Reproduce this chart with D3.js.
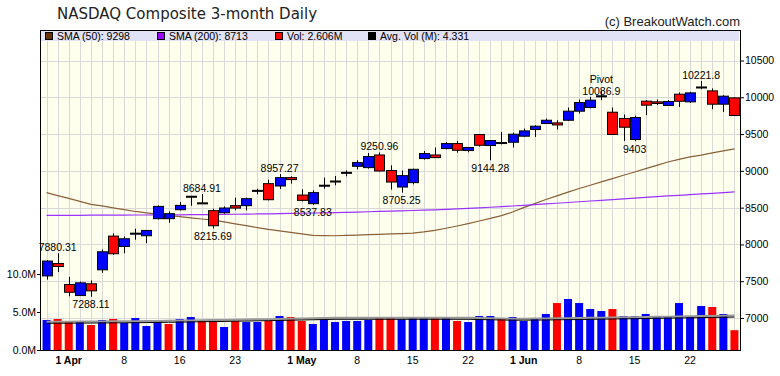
<!DOCTYPE html>
<html>
<head>
<meta charset="utf-8">
<script src="https://cdn.jsdelivr.net/npm/d3@7"></script>
<style>
body { margin: 0; background: #fff; }
svg text { font-family: "Liberation Sans", Arial, sans-serif; }
</style>
</head>
<body>
<div id="vis-container"></div>
<script>
// one entry per trading day, 30 Mar - 26 Jun 2020
var opens = [7572, 7740, 7455, 7305, 7465, 7655, 8113, 7972, 8142, 8118,
    8350, 8350, 8472, 8655, 8565, 8459, 8431, 8527, 8527, 8727,
    8826, 8794, 8908, 8671, 8554, 8794, 8862, 8970, 9062, 9044,
    9216, 9004, 8780, 8840, 9167, 9216, 9303, 9371, 9276, 9494,
    9344, 9385, 9389, 9471, 9562, 9643, 9652, 9688, 9811, 9861,
    10010, 9797, 9712, 9426, 9947, 9938, 9889, 10042, 9938, 10140,
    10087, 9906, 9992];
var highs = [7788, 7880.31, 7560, 7496, 7510, 7932, 8150, 8109, 8214, 8195,
    8530, 8450, 8576, 8660, 8684.91, 8486, 8517, 8636, 8636, 8758,
    8881, 8957.27, 8926, 8749, 8735, 8908, 8930, 9008, 9144, 9243,
    9250.96, 9076, 9004, 9030, 9270, 9317, 9393, 9407, 9320, 9501,
    9420, 9529, 9521, 9575, 9620, 9712, 9688, 9861, 9970, 10006,
    10086.9, 9861, 9766, 9752, 9961, 9970, 9961, 10066, 10074, 10221.8,
    10120, 10029, 10000];
var lows = [7522, 7624, 7295, 7300, 7288.11, 7614, 7860, 7881, 8064, 8017,
    8340, 8295, 8463, 8525, 8552, 8215.69, 8418, 8463, 8463, 8681,
    8599, 8753, 8826, 8585, 8537.83, 8758, 8803, 8926, 9021, 9030,
    8990, 8745, 8705.25, 8817, 9153, 9175, 9293, 9248, 9253, 9330,
    9144.28, 9360, 9317, 9460, 9461, 9640, 9562, 9680, 9780, 9850,
    9961, 9490, 9407, 9403, 9757, 9893, 9889, 9869, 9924, 10111,
    9838, 9801, 9750];
var closes = [7774, 7700, 7350, 7478, 7369, 7900, 7873, 8077, 8153, 8190,
    8517, 8418, 8531, 8650, 8560, 8254, 8495, 8494, 8622, 8735,
    8608, 8908, 8881, 8599, 8704, 8805, 8855, 8980, 9112, 9194,
    8998, 8848, 8935, 9021, 9235, 9180, 9371, 9280, 9317, 9348,
    9412, 9380, 9498, 9543, 9607, 9688, 9624, 9811, 9929, 9961,
    10020, 9494, 9593, 9725, 9893, 9916, 9943, 9946, 10060, 10131,
    9906, 10015, 9752];
// volume in millions
var volumes = [3.95, 4.08, 3.68, 3.68, 3.29, 3.95, 4.08, 3.55, 4.21, 3.16,
    3.82, 3.42, 4.08, 4.34, 3.82, 3.82, 3.03, 3.82, 3.68, 3.68,
    3.82, 4.47, 4.34, 3.82, 3.42, 3.95, 3.68, 3.82, 3.82, 3.95,
    4.34, 4.34, 4.04, 4.34, 4.34, 4.21, 4.34, 3.82, 3.68, 4.47,
    4.47, 4.08, 4.34, 3.82, 4.08, 4.74, 6.18, 6.71, 6.18, 5.39,
    5.13, 5.39, 4.47, 4.47, 4.74, 4.34, 4.34, 6.18, 4.47, 5.79,
    5.66, 4.74, 2.606];
var sma50 = [8704, 8664, 8625, 8585, 8545, 8523, 8498, 8473, 8448, 8428,
    8411, 8395, 8379, 8362, 8346, 8330, 8306, 8280, 8255, 8229,
    8204, 8183, 8163, 8143, 8123, 8120, 8118, 8122, 8127, 8133,
    8138, 8143, 8148, 8153, 8170, 8192, 8220, 8250, 8283, 8318,
    8355, 8392, 8440, 8500, 8555, 8610, 8660, 8710, 8760, 8805,
    8850, 8895, 8940, 8985, 9030, 9075, 9120, 9155, 9190, 9215,
    9245, 9272, 9298];
var sma200 = [8395, 8395, 8396, 8396, 8397, 8398, 8398, 8399, 8400, 8400,
    8401, 8402, 8403, 8404, 8405, 8406, 8408, 8410, 8412, 8414,
    8416, 8419, 8421, 8424, 8427, 8430, 8433, 8437, 8440, 8444,
    8448, 8452, 8456, 8461, 8465, 8470, 8476, 8483, 8490, 8497,
    8505, 8513, 8522, 8531, 8540, 8550, 8560, 8570, 8580, 8590,
    8600, 8610, 8620, 8630, 8640, 8650, 8659, 8668, 8677, 8686,
    8695, 8704, 8713];
var avgVol = [3.51, 3.52, 3.53, 3.54, 3.55, 3.56, 3.57, 3.58, 3.59, 3.61,
    3.63, 3.65, 3.67, 3.69, 3.72, 3.74, 3.76, 3.79, 3.81, 3.84,
    3.86, 3.89, 3.92, 3.95, 3.98, 4.01, 4.04, 4.04, 4.04, 4.04,
    4.04, 4.04, 4.04, 4.04, 4.04, 4.04, 4.04, 4.04, 4.04, 4.01,
    3.98, 3.95, 3.92, 3.93, 3.94, 3.95, 3.97, 3.99, 4.01, 4.03,
    4.06, 4.08, 4.10, 4.12, 4.14, 4.17, 4.19, 4.21, 4.23, 4.26,
    4.28, 4.31, 4.33];

var priceTicks = [7000, 7500, 8000, 8500, 9000, 9500, 10000, 10500];
var volTicks = [0, 5, 10];
var dateTickIndex = [2, 7, 12, 17, 23, 28, 33, 38, 43, 48, 53, 58];
var dateTickLabels = ["1 Apr", "8", "16", "23", "1 May", "8", "15", "22", "1 Jun", "8", "15", "22"];
var highMarks = [1, 14, 21, 30, 59];
var lowMarks = [4, 15, 24, 32, 40, 53];
var pivotIndex = 50;
var legendLabels = ["SMA (50): 9298", "SMA (200): 8713", "Vol: 2.606M", "Avg. Vol (M): 4.331"];
var legendColors = ["#663300", "#9900ff", "#ff0000", "#000000"];

var width = 780, height = 376;
var plot = {left: 40, right: 740, top: 30, bottom: 350};
var up = "#0000ff", down = "#ff0000";

var svg = d3.select("#vis-container").append("svg")
    .attr("width", width)
    .attr("height", height);

var days = d3.range(closes.length);
var x = d3.scaleBand().domain(days).range([plot.left + 1, plot.right]);
var cx = i => x(i) + x.bandwidth() / 2;
var y = d3.scaleLinear().domain([7000, 10500]).range([318, 60.5]);
var yVol = d3.scaleLinear().domain([0, 10]).range([plot.bottom, 274]);
var fmt = d3.format(".6~r");

// title
svg.append("text")
    .attr("x", 57).attr("y", 18.5)
    .style("font-family", "'DejaVu Sans', sans-serif")
    .style("font-size", "15px")
    .attr("fill", "#222")
    .text("NASDAQ Composite 3-month Daily");
svg.append("text")
    .attr("x", plot.right).attr("y", 26)
    .attr("text-anchor", "end")
    .style("font-size", "13px")
    .attr("fill", "#222")
    .text("(c) BreakoutWatch.com");

// plot background + grid
svg.append("rect")
    .attr("x", plot.left).attr("y", plot.top)
    .attr("width", plot.right - plot.left).attr("height", plot.bottom - plot.top)
    .attr("fill", "#ffffee");

var grid = svg.append("g").attr("stroke", "#d9d9d9").attr("stroke-width", 1);
grid.selectAll(".hg").data(priceTicks).enter().append("line")
    .attr("x1", plot.left).attr("x2", plot.right)
    .attr("y1", d => Math.round(y(d)) + 0.5).attr("y2", d => Math.round(y(d)) + 0.5);
grid.selectAll(".vg").data(days).enter().append("line")
    .attr("x1", d => Math.round(cx(d)) + 0.5).attr("x2", d => Math.round(cx(d)) + 0.5)
    .attr("y1", plot.top).attr("y2", plot.bottom);

// legend band
svg.append("rect")
    .attr("x", plot.left + 1).attr("y", plot.top + 1)
    .attr("width", plot.right - plot.left - 2).attr("height", 10)
    .attr("fill", "#e2e2f6");
var legendX = [45, 157, 275, 368];
var leg = svg.append("g").selectAll("g").data(legendLabels).enter().append("g")
    .attr("transform", (d, i) => "translate(" + legendX[i] + ",32)");
leg.append("rect")
    .attr("x", 0.5).attr("y", 0.5).attr("width", 7).attr("height", 7)
    .attr("fill", (d, i) => legendColors[i]).attr("stroke", "#000");
leg.append("text")
    .attr("x", 12).attr("y", 7.5)
    .style("font-size", "10.5px")
    .text(d => d);

// volume bars
svg.append("g").selectAll("rect").data(days).enter().append("rect")
    .attr("x", d => cx(d) - 4)
    .attr("width", 8)
    .attr("y", d => yVol(volumes[d]))
    .attr("height", d => plot.bottom - yVol(volumes[d]))
    .attr("fill", d => (d > 0 && closes[d] < closes[d - 1]) ? down : up);

var volLine = d3.line().x(d => cx(d)).y(d => yVol(avgVol[d]));
svg.append("path").attr("d", volLine(days))
    .attr("fill", "none").attr("stroke", "#999").attr("stroke-width", 2)
    .attr("transform", "translate(0,-1.5)");
svg.append("path").attr("d", volLine(days))
    .attr("fill", "none").attr("stroke", "#000").attr("stroke-width", 1);

// moving averages
var smaLine = arr => d3.line().x(d => cx(d)).y(d => y(arr[d]))(days);
svg.append("path").attr("d", smaLine(sma50))
    .attr("fill", "none").attr("stroke", "#8a6038").attr("stroke-width", 1.2);
svg.append("path").attr("d", smaLine(sma200))
    .attr("fill", "none").attr("stroke", "#9933ff").attr("stroke-width", 1.2);

// candles
var candles = svg.append("g").selectAll("g").data(days).enter().append("g");
candles.append("line")
    .attr("x1", d => Math.round(cx(d)) + 0.5).attr("x2", d => Math.round(cx(d)) + 0.5)
    .attr("y1", d => y(highs[d])).attr("y2", d => y(lows[d]))
    .attr("stroke", "#000");
candles.append("rect")
    .attr("x", d => Math.round(cx(d)) - 4.5)
    .attr("width", 10)
    .attr("y", d => y(Math.max(opens[d], closes[d])))
    .attr("height", d => Math.max(1, Math.abs(y(opens[d]) - y(closes[d]))))
    .attr("fill", d => closes[d] >= opens[d] ? up : down)
    .attr("stroke", "#000").attr("stroke-width", 1);

// high / low annotations
var notes = svg.append("g").style("font-size", "10.5px").attr("text-anchor", "middle").attr("fill", "#000");
notes.selectAll(".hi").data(highMarks).enter().append("text")
    .attr("x", d => cx(d)).attr("y", d => y(highs[d]) - 2)
    .text(d => fmt(highs[d]));
notes.selectAll(".lo").data(lowMarks).enter().append("text")
    .attr("x", d => cx(d)).attr("y", d => y(lows[d]) + 11.5)
    .text(d => fmt(lows[d]));
notes.append("text")
    .attr("x", cx(pivotIndex)).attr("y", y(highs[pivotIndex]) + 4)
    .text(fmt(highs[pivotIndex]));
notes.append("text")
    .attr("x", cx(pivotIndex)).attr("y", y(highs[pivotIndex]) - 8)
    .text("Pivot");

// axes
var axR = svg.append("g")
    .attr("transform", "translate(" + plot.right + ",0)")
    .call(d3.axisRight(y).tickValues(priceTicks).tickSize(4).tickPadding(1).tickFormat(d3.format("d")));
var axL = svg.append("g")
    .attr("transform", "translate(" + plot.left + ",0)")
    .call(d3.axisLeft(yVol).tickValues(volTicks).tickSize(3).tickPadding(1).tickFormat(d => d3.format(".1f")(d) + "M"));
[axR, axL].forEach(function(ax) {
    ax.select(".domain").remove();
    ax.selectAll("text").style("font-size", "10.5px").style("font-family", "'Liberation Sans', Arial, sans-serif").attr("fill", "#000");
    ax.selectAll("line").attr("stroke", "#000");
});

var axB = svg.append("g");
axB.selectAll("text").data(dateTickIndex).enter().append("text")
    .attr("x", d => cx(d)).attr("y", 364)
    .attr("text-anchor", "middle")
    .style("font-size", "10.5px")
    .style("font-weight", (d, i) => dateTickLabels[i].length > 2 ? "bold" : "normal")
    .text((d, i) => dateTickLabels[i]);

// frame
svg.append("rect")
    .attr("x", plot.left + 0.5).attr("y", plot.top + 0.5)
    .attr("width", plot.right - plot.left).attr("height", plot.bottom - plot.top)
    .attr("fill", "none").attr("stroke", "#000");
</script>
</body>
</html>
